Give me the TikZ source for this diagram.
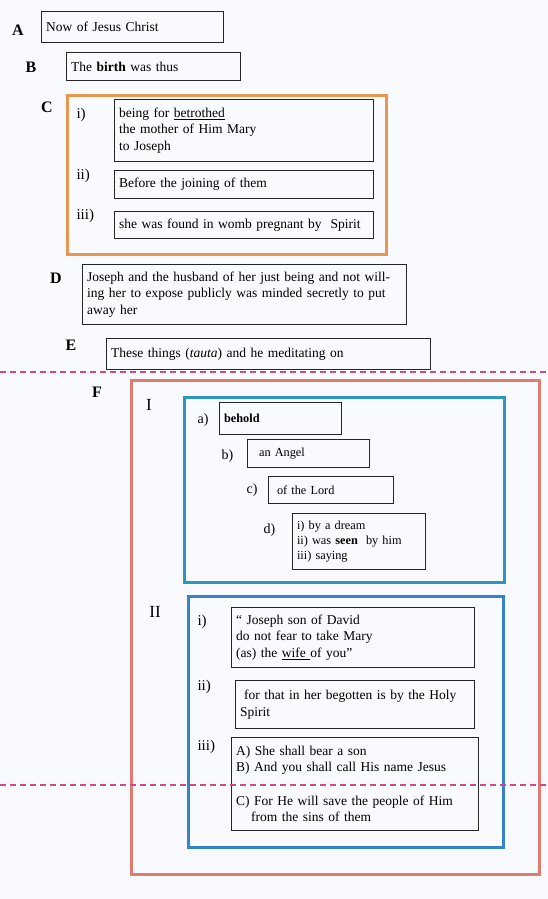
\documentclass[tikz,border=0pt]{standalone}
\usepackage{fontspec}
\setmainfont{Liberation Serif}
\definecolor{paper}{RGB}{249,250,253}
\definecolor{orangec}{RGB}{232,150,80}
\definecolor{salmonc}{RGB}{226,122,110}
\definecolor{tealc}{RGB}{42,152,188}
\definecolor{bluec}{RGB}{52,132,202}
\definecolor{cutpink}{RGB}{212,70,140}
\begin{document}
\begin{tikzpicture}[x=1pt,y=-1pt,
  txt/.style={draw=black!85,line width=1.1pt,anchor=north west,align=left,inner xsep=4.5pt,inner ysep=0pt,font=\fontsize{13.5}{16.5}\selectfont},
  small/.style={txt,font=\fontsize{12.3}{15}\selectfont},
  lbl/.style={font=\fontsize{16}{16}\selectfont\bfseries},
  part/.style={font=\fontsize{17}{17}\selectfont},
  num/.style={anchor=west,font=\fontsize{15}{15}\selectfont},
  numsm/.style={anchor=west,font=\fontsize{14}{14}\selectfont},
  frame/.style={draw,line width=2.8pt,inner sep=0pt,anchor=north west},
  cut/.style={dashed,line width=1.2pt,draw=cutpink,dash pattern=on 6pt off 4pt}]
\fill[paper] (0,0) rectangle (548,899);
\useasboundingbox (0,0) rectangle (548,899);
\node[lbl] (labA) at (18,30) {A};
\node[txt,text width=173pt,minimum height=31pt] (A) at (41,11) {Now of Jesus Christ};
\node[lbl] (labB) at (31,67) {B};
\node[txt,text width=165pt,minimum height=28pt] (B) at (66,52) {The \textbf{birth} was thus};
\node[lbl] (labC) at (47,107) {C};
\node[frame,draw=orangec,minimum width=319pt,minimum height=159pt] (C) at (66,94) {};
\node[num] (nCi) at (73,115) {i)};
\node[txt,text width=250pt,minimum height=62pt] (Ci) at (114,99) {being for \underline{betrothed}\\the mother of Him Mary\\to Joseph};
\node[num] (nCii) at (73,176) {ii)};
\node[txt,text width=250pt,minimum height=28pt] (Cii) at (114,170) {Before the joining of them};
\node[num] (nCiii) at (73,216) {iii)};
\node[txt,text width=250pt,minimum height=27pt] (Ciii) at (114,211) {she was found in womb pregnant by\ \ Spirit};
\node[lbl] (labD) at (56,278) {D};
\node[txt,text width=315pt,minimum height=60pt] (D) at (82,264) {Joseph and the husband of her just being and not will-\\ing her to expose publicly was minded secretly to put\\away her};
\node[lbl] (labE) at (71,345) {E};
\node[txt,text width=315pt,minimum height=31pt] (E) at (106,338) {These things (\textit{tauta}) and he meditating on};
\node[lbl] (labF) at (97,392) {F};
\node[frame,draw=salmonc,minimum width=408pt,minimum height=494pt] (F) at (130,379) {};
\node[part] (labI) at (149,405) {I};
\node[frame,draw=tealc,minimum width=320pt,minimum height=185pt] (I) at (183,396) {};
\node[numsm] (nIa) at (194,420) {a)};
\node[small,text width=113pt,minimum height=32pt] (Ia) at (219,402) {\textbf{behold}};
\node[numsm] (nIb) at (218,456) {b)};
\node[small,text width=113pt,minimum height=28pt] (Ib) at (247,439) {\hspace{7pt}an Angel};
\node[numsm] (nIc) at (243,490) {c)};
\node[small,text width=116pt,minimum height=27pt] (Ic) at (268,476) {\hspace{4pt}of the Lord};
\node[numsm] (nId) at (260,530) {d)};
\node[small,text width=124pt,minimum height=56pt] (Id) at (292,513) {i) by a dream\\ii) was \textbf{seen}\ \ by him\\iii) saying};
\node[part] (labII) at (155,612) {II};
\node[frame,draw=bluec,minimum width=315pt,minimum height=251pt] (II) at (187,595) {};
\node[num] (nIIi) at (194,622) {i)};
\node[txt,text width=234pt,minimum height=60pt] (IIi) at (231,607) {“ Joseph son of David\\do not fear to take Mary\\(as) the \underline{wife\ }of you”};
\node[num] (nIIii) at (194,687) {ii)};
\node[txt,text width=230pt,minimum height=48pt] (IIii) at (235,680) {\hspace{4pt}for that in her begotten is by the Holy\\Spirit};
\node[num] (nIIiii) at (194,747) {iii)};
\node[txt,text width=238pt,minimum height=93pt] (IIiii) at (231,737) {A) She shall bear a son\\B) And you shall call His name Jesus\\[17pt]C) For He will save the people of Him\\\hspace{15pt}from the sins of them};
\coordinate (cut1L) at (0,372);
\coordinate (cut1R) at (548,372);
\coordinate (cut2L) at (0,785);
\coordinate (cut2R) at (548,785);
\draw[cut] (cut1L) -- (cut1R);
\draw[cut] (cut2L) -- (cut2R);
\end{tikzpicture}
\end{document}
